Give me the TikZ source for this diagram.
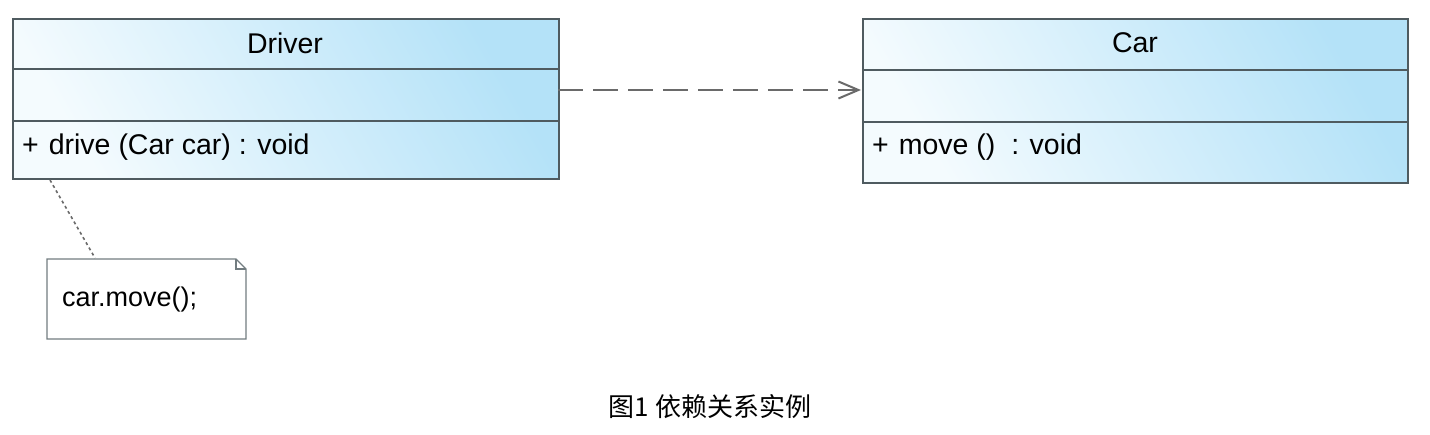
\documentclass[tikz,border=0pt]{standalone}
\usepackage{fontspec}
\setmainfont{Liberation Sans}
\newfontfamily\cjk{Noto Sans CJK SC}
\usetikzlibrary{arrows.meta}
\definecolor{umlborder}{HTML}{4F5B60}
\definecolor{umllight}{HTML}{F4FBFE}
\definecolor{umlblue}{HTML}{B4E2F8}
\definecolor{linkgray}{HTML}{6A6A6A}
\tikzset{
  classbox/.style={draw=umlborder, line width=1.6pt, rectangle, inner sep=0pt,
    left color=umllight, right color=umlblue, shading angle=120},
  rowline/.style={draw=umlborder, line width=1.6pt},
  uml/.style={font=\fontsize{28.5}{30}\selectfont, text=black, inner sep=0pt},
  notebox/.style={draw=umlborder!80, line width=1.4pt, fill=white},
  dep/.style={draw=linkgray, line width=2pt, dash pattern=on 25pt off 10pt,
    -{Straight Barb[length=20pt,width=17pt,line width=2pt]}},
  anchorline/.style={draw=linkgray, line width=1.6pt, dash pattern=on 3pt off 3pt},
}
\begin{document}
\begin{tikzpicture}[x=1pt,y=-1pt]
\useasboundingbox (0,0) rectangle (1430,434);
% Driver class
\node[classbox, minimum width=546pt, minimum height=160pt, anchor=north west] (driver) at (12,18) {};
\draw[rowline] (12,69) -- (558,69);
\draw[rowline] (12,121) -- (558,121);
\node[uml] (drivername) at (285,43) {Driver};
\node[uml, anchor=west] (drivermeth) at (22,147) {+\hspace{10pt}drive (Car car) : void};
% Car class
\node[classbox, minimum width=545pt, minimum height=164pt, anchor=north west] (car) at (862,18) {};
\draw[rowline] (862,70) -- (1407,70);
\draw[rowline] (862,122) -- (1407,122);
\node[uml] (carname) at (1135,43) {Car};
\node[uml, anchor=west] (carmeth) at (872,147) {+\hspace{10pt}move ()\ \ : void};
% dependency
\coordinate (depstart) at (558,90);
\coordinate (depend) at (861,90);
\draw[dep] (depstart) -- (depend);
% note
\draw[notebox] (47,259) -- (236,259) -- (246,269) -- (246,339) -- (47,339) -- cycle;
\draw[draw=umlborder!80, line width=1.2pt] (236,259) -- (236,269) -- (246,269);
\node[font=\fontsize{27}{29}\selectfont, text=black, anchor=west, inner sep=0pt] (note) at (62,300) {car.move();};
\coordinate (noteanchor) at (95,258);
\coordinate (driveranchor) at (50,180);
\draw[anchorline] (driveranchor) -- (noteanchor);
% caption
\node[font=\cjk\fontsize{26}{28}\selectfont, inner sep=0pt] (caption) at (710,407) {图1 依赖关系实例};
\end{tikzpicture}
\end{document}
